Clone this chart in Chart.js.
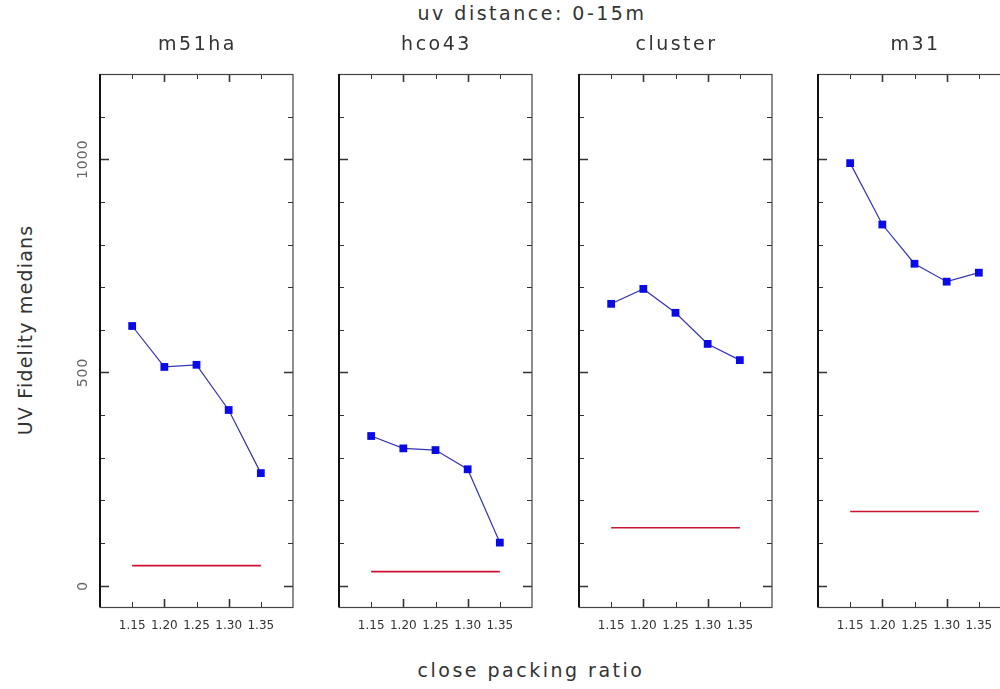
<!DOCTYPE html>
<html>
<head>
<meta charset="utf-8">
<script src="https://cdn.jsdelivr.net/npm/chart.js@4"></script>
<style>
  html, body { margin: 0; padding: 0; background: #fff; overflow: hidden; }
  body { width: 1000px; height: 689px; position: relative; font-family: "DejaVu Sans", sans-serif; color: #333; }
  canvas { position: absolute; top: 0; }
  .label { position: absolute; white-space: nowrap; font-size: 19px; letter-spacing: 2.5px; transform: translate(-50%, -50%); }
  #y-title { letter-spacing: 1.2px; transform: translate(-50%, -50%) rotate(-90deg); }
</style>
</head>
<body>
<div class="label" id="main-title" style="left:532px; top:13px;">uv distance: 0-15m</div>
<div class="label" id="y-title" style="left:25px; top:330px;">UV Fidelity medians</div>
<div class="label" id="x-title" style="left:531px; top:670px;">close packing ratio</div>

<script>
// close packing ratio on x, one series of medians per field
const packingRatio = [1.15, 1.20, 1.25, 1.30, 1.35];
const fieldNames = ['m51ha', 'hco43', 'cluster', 'm31'];

const m51haMedians = [609, 513, 518, 412, 264];
const hco43Medians = [351, 322, 318, 273, 101];
const clusterMedians = [661, 696, 640, 567, 529];
const m31Medians = [991, 847, 755, 713, 734];

// flat reference level drawn in red under each curve
const referenceLevels = [47, 33, 136, 174];

const yTickLabels = [0, 500, 1000];

const allMedians = [m51haMedians, hco43Medians, clusterMedians, m31Medians];

// left edge of each plot box in page pixels
const boxLeft = [100, 339, 579, 818];
const BOX_W = 193, MARGIN = 40, CANVAS_H = 689;

const frameTicks = {
  id: 'frameTicks',
  beforeDatasetsDraw(chart) {
    const { ctx, chartArea: a, scales: { x, y } } = chart;
    ctx.save();
    // y ticks every 100, long ones every 500, both sides pointing inward
    ctx.strokeStyle = '#333';
    for (let v = 0; v <= 1100; v += 100) {
      const py = Math.round(y.getPixelForValue(v)) + 0.5;
      const len = v % 500 === 0 ? 9 : 5;
      ctx.lineWidth = v % 500 === 0 ? 1.6 : 1;
      ctx.beginPath();
      ctx.moveTo(a.left, py); ctx.lineTo(a.left + len, py);
      ctx.moveTo(a.right, py); ctx.lineTo(a.right - len, py);
      ctx.stroke();
    }
    // x ticks at each ratio, long ones at tenths
    packingRatio.forEach(r => {
      const px = Math.round(x.getPixelForValue(r)) + 0.5;
      const major = Math.abs(r * 10 - Math.round(r * 10)) < 1e-6;
      const len = major ? 8 : 5;
      ctx.lineWidth = major ? 1.6 : 1;
      ctx.beginPath();
      ctx.moveTo(px, a.top); ctx.lineTo(px, a.top + len);
      ctx.moveTo(px, a.bottom); ctx.lineTo(px, a.bottom - len);
      ctx.stroke();
    });
    // frame: heavy left side, thin elsewhere
    ctx.lineWidth = 1.2;
    ctx.strokeStyle = '#444';
    ctx.strokeRect(a.left, a.top + 0.5, a.right - a.left, a.bottom - a.top);
    ctx.lineWidth = 2;
    ctx.strokeStyle = '#111';
    ctx.beginPath();
    ctx.moveTo(a.left, a.top); ctx.lineTo(a.left, a.bottom);
    ctx.stroke();
    ctx.restore();
  },
  afterDraw(chart, args, opts) {
    const { ctx, chartArea: a, scales: { y } } = chart;
    ctx.save();
    ctx.fillStyle = '#333';
    ctx.font = '19px "DejaVu Sans", sans-serif';
    ctx.letterSpacing = '2.5px';
    ctx.textAlign = 'center';
    ctx.textBaseline = 'middle';
    ctx.fillText(opts.title, (a.left + a.right) / 2 + 1, 45);
    if (opts.yLabels) {
      ctx.font = '14px "DejaVu Sans", sans-serif';
      ctx.letterSpacing = '1px';
      ctx.fillStyle = '#666';
      yTickLabels.forEach(v => {
        ctx.save();
        ctx.translate(a.left - 17, y.getPixelForValue(v));
        ctx.rotate(-Math.PI / 2);
        ctx.fillText(String(v), 0, 0);
        ctx.restore();
      });
    }
    ctx.restore();
  }
};

fieldNames.forEach((name, i) => {
  const canvas = document.createElement('canvas');
  canvas.width = BOX_W + 2 * MARGIN;
  canvas.height = CANVAS_H;
  canvas.style.left = (boxLeft[i] - MARGIN) + 'px';
  document.body.appendChild(canvas);

  const medians = allMedians[i];
  new Chart(canvas.getContext('2d'), {
    type: 'line',
    data: {
      datasets: [
        {
          label: name,
          data: packingRatio.map((r, k) => ({ x: r, y: medians[k] })),
          borderColor: '#3434b4',
          borderWidth: 1.2,
          pointStyle: 'rect',
          pointRadius: 5.5,
          pointBackgroundColor: '#0a0ae8',
          pointBorderWidth: 0,
          tension: 0
        },
        {
          label: 'reference',
          data: [
            { x: packingRatio[0], y: referenceLevels[i] },
            { x: packingRatio[packingRatio.length - 1], y: referenceLevels[i] }
          ],
          borderColor: '#cc1133',
          borderWidth: 1.6,
          pointRadius: 0
        }
      ]
    },
    options: {
      responsive: false,
      animation: false,
      events: [],
      layout: { padding: { top: 74, right: MARGIN, bottom: 52, left: 0 } },
      scales: {
        x: {
          type: 'linear',
          min: 1.10,
          max: 1.40,
          afterBuildTicks: s => { s.ticks = packingRatio.map(v => ({ value: v })); },
          afterFit: s => { s.height = 30; },
          ticks: {
            callback: v => v.toFixed(2),
            font: { family: '"DejaVu Sans", sans-serif', size: 12 },
            color: '#333',
            padding: 12,
            maxRotation: 0,
            autoSkip: false
          },
          grid: { display: false, drawTicks: false },
          border: { display: false }
        },
        y: {
          min: -50,
          max: 1200,
          afterFit: s => { s.width = MARGIN; },
          ticks: { display: false },
          grid: { display: false, drawTicks: false },
          border: { display: false }
        }
      },
      plugins: {
        legend: { display: false },
        tooltip: { enabled: false },
        frameTicks: { title: name, yLabels: i === 0 }
      }
    },
    plugins: [frameTicks]
  });
});
</script>
</body>
</html>
